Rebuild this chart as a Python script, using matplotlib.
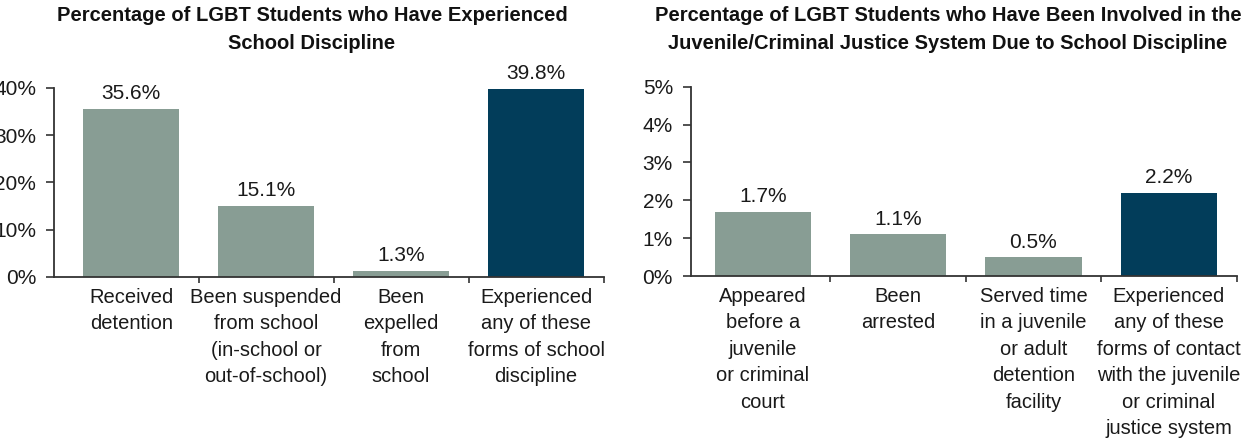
import matplotlib
matplotlib.use("Agg")
import matplotlib.pyplot as plt
from matplotlib.ticker import FixedLocator, FuncFormatter

# school discipline
discipline_labels = [
    "Received\ndetention",
    "Been suspended\nfrom school\n(in-school or\nout-of-school)",
    "Been\nexpelled\nfrom\nschool",
    "Experienced\nany of these\nforms of school\ndiscipline",
]
discipline_values = [35.6, 15.1, 1.3, 39.8]
discipline_ticks = [0, 10, 20, 30, 40]

# juvenile / criminal justice contact
justice_labels = [
    "Appeared\nbefore a\njuvenile\nor criminal\ncourt",
    "Been\narrested",
    "Served time\nin a juvenile\nor adult\ndetention\nfacility",
    "Experienced\nany of these\nforms of contact\nwith the juvenile\nor criminal\njustice system",
]
justice_values = [1.7, 1.1, 0.5, 2.2]
justice_ticks = [0, 1, 2, 3, 4, 5]

title_left = "Percentage of LGBT Students who Have Experienced\nSchool Discipline"
title_right = ("Percentage of LGBT Students who Have Been Involved in the\n"
               "Juvenile/Criminal Justice System Due to School Discipline")

GRAY = "#889d94"
NAVY = "#023d5a"
INK = "#1a1a1a"

plt.rcParams["font.family"] = ["Liberation Sans", "DejaVu Sans"]

W, H = 1255, 440
fig = plt.figure(figsize=(W / 100, H / 100), dpi=100)


def px_axes(x0, x1, ytop, ybot):
    return fig.add_axes([x0 / W, 1 - ybot / H, (x1 - x0) / W, (ybot - ytop) / H])


def draw_panel(ax, labels, values, ticks, xmin):
    colors = [GRAY] * (len(values) - 1) + [NAVY]
    x = list(range(len(values)))
    bars = ax.bar(x, values, width=0.71, color=colors)
    ax.bar_label(bars, labels=[f"{v:.1f}%" for v in values],
                 padding=4, fontsize=15, color=INK)
    ax.set_xlim(xmin, len(values) - 0.5)
    ax.set_ylim(0, ticks[-1])
    ax.yaxis.set_major_locator(FixedLocator(ticks))
    ax.yaxis.set_major_formatter(FuncFormatter(lambda v, p: f"{v:.0f}%"))
    ax.set_xticks(x)
    ax.set_xticklabels(labels, linespacing=1.49)
    ax.set_xticks([i + 0.5 for i in x], minor=True)
    ax.tick_params(axis="x", which="major", length=0, pad=8,
                   labelsize=14.5, labelcolor=INK)
    ax.tick_params(axis="x", which="minor", length=4.5, width=1.2,
                   direction="out", color="#333333")
    ax.tick_params(axis="y", length=6, width=1.2, pad=7, color="#333333",
                   labelsize=15, labelcolor=INK)
    for s in ("top", "right"):
        ax.spines[s].set_visible(False)
    for s in ("left", "bottom"):
        ax.spines[s].set_linewidth(1.3)
        ax.spines[s].set_color("#333333")


ax1 = px_axes(54.3, 603.5, 87.7, 277)
draw_panel(ax1, discipline_labels, discipline_values, discipline_ticks, -0.57)

ax2 = px_axes(691, 1236.5, 86.7, 276)
draw_panel(ax2, justice_labels, justice_values, justice_ticks, -0.53)

title_font = dict(family=["Liberation Sans Narrow", "Liberation Sans", "DejaVu Sans"],
                  fontweight="bold", fontsize=14.5, color="#111111",
                  ha="center", va="top", linespacing=1.6)
fig.text(312 / W, 1 - 6 / H, title_left, **title_font)
fig.text(948 / W, 1 - 6 / H, title_right, **title_font)

fig.savefig("out.png", dpi=100)
